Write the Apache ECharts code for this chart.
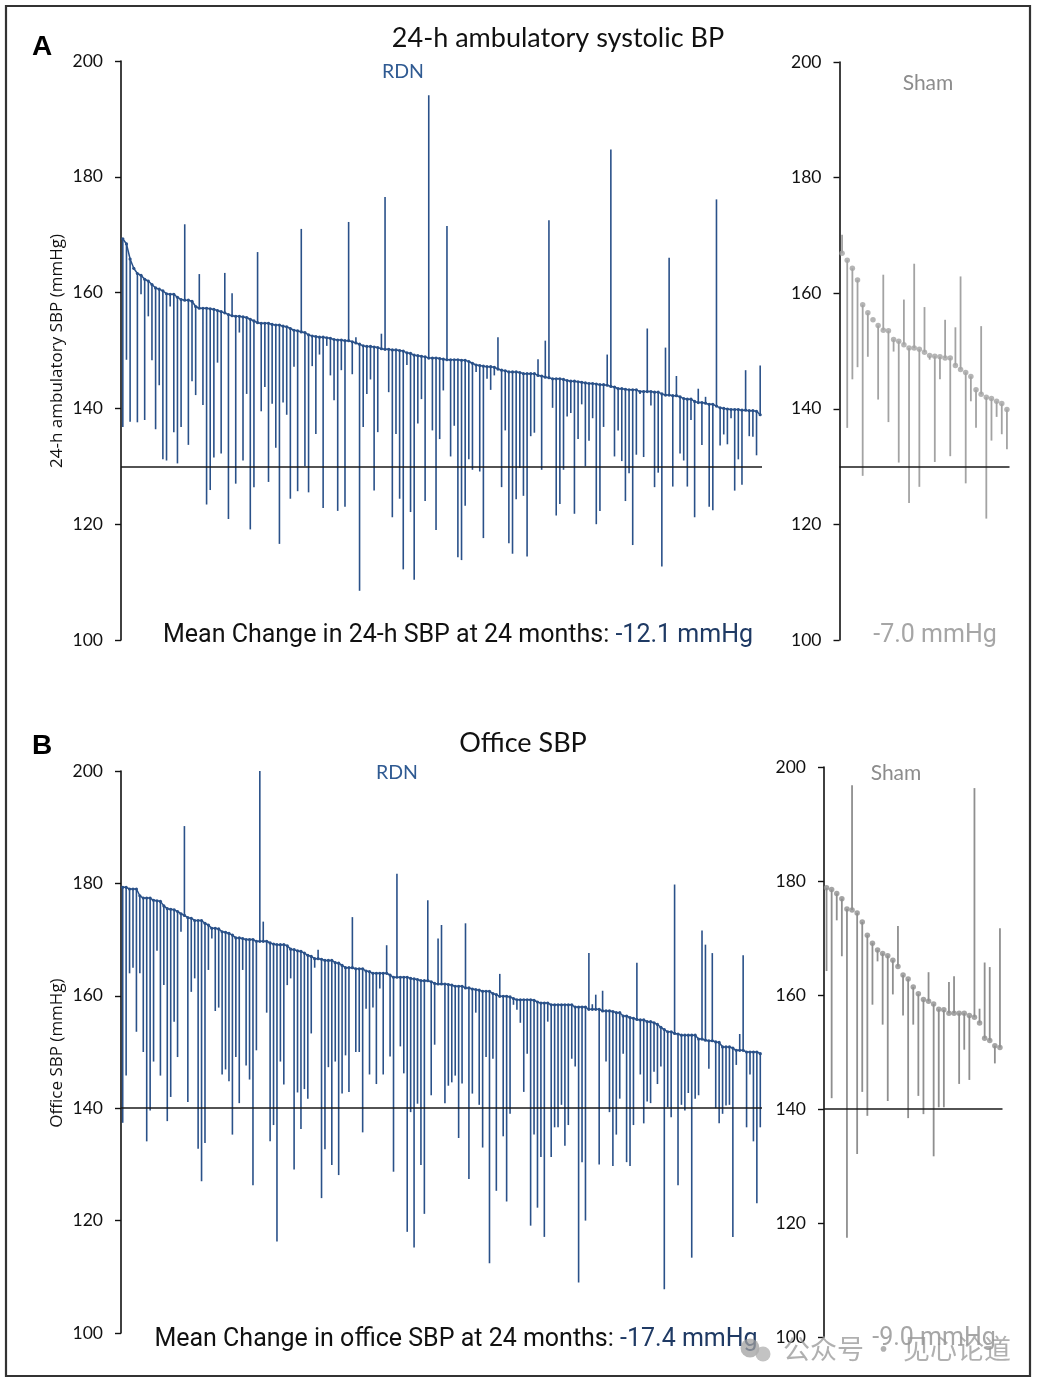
<!DOCTYPE html>
<html>
<head>
<meta charset="utf-8">
<script src="https://cdn.jsdelivr.net/npm/echarts@6/dist/echarts.min.js"></script>
<style>
html,body{margin:0;padding:0;background:#fff;}
#chart{width:1046px;height:1390px;}
</style>
</head>
<body>
<div id="chart"></div>
<script>
// ---------- DATA ----------
// Panel A: 24-h ambulatory SBP, RDN (baseline sorted, 24-month value)
const aRdnBase = [169.3,168.4,165.8,164.2,163.3,163.0,162.3,162.0,161.4,160.8,
160.6,160.3,159.8,159.7,159.7,159.2,158.8,158.7,158.7,158.5,
157.6,157.3,157.3,157.3,157.2,157.1,156.9,156.7,156.5,156.2,
156.0,155.9,155.9,155.8,155.7,155.4,155.1,154.8,154.7,154.7,
154.7,154.5,154.4,154.4,154.2,154.1,153.8,153.5,153.4,153.2,
153.1,152.7,152.5,152.4,152.3,152.3,152.2,152.1,151.9,
151.8,151.8,151.7,151.7,151.5,151.3,151.1,150.8,150.7,150.7,
150.6,150.5,150.3,150.2,150.2,150.1,150.1,150.0,149.9,149.6,
149.5,149.2,149.1,149.0,148.9,148.7,148.7,148.7,148.6,148.5,
148.4,148.4,148.4,148.4,148.3,148.3,148.1,147.8,147.5,147.4,
147.3,147.2,147.2,147.1,146.8,146.6,146.5,146.3,146.3,146.3,
146.2,146.0,146.0,146.0,146.0,145.7,145.6,
145.4,145.3,145.1,145.1,145.1,145.0,144.8,144.7,144.7,144.6,
144.5,144.4,144.3,144.3,144.2,144.1,144.1,144.0,143.8,143.7,
143.4,143.4,143.3,143.2,143.2,143.2,142.9,142.9,142.9,142.9,
142.8,142.8,142.5,142.3,142.3,142.2,142.2,142.0,141.7,141.6,
141.6,141.2,141.0,141.0,140.9,140.7,140.7,140.4,140.1,140.0,
139.9,139.8,139.8,139.8,139.7,139.7,139.6,139.6,139.5,138.9];
const aRdnFollow = [136.8,148.4,137.7,164.2,137.6,159.7,138.0,155.9,148.3,136.4,
144.0,131.2,131.0,157.6,135.9,130.5,136.8,171.8,133.7,144.7,
142.3,163.2,140.6,123.4,125.9,131.5,147.9,132.2,163.4,120.9,
159.9,127.0,153.1,131.0,142.5,119.1,126.4,167.0,139.5,143.7,
127.3,140.8,133.2,116.6,141.0,138.9,124.4,147.2,125.7,171.0,
130.0,125.5,147.3,135.6,149.3,122.8,150.8,145.7,141.4,
122.3,146.6,123.0,172.2,145.9,152.3,108.5,136.8,142.5,145.0,
125.8,135.9,152.9,176.5,142.8,121.2,135.6,124.4,112.2,147.5,
122.1,110.4,137.4,141.6,124.0,194.1,136.2,119.0,134.7,143.1,
171.5,131.7,137.0,114.3,113.8,123.2,131.2,129.4,146.3,129.1,
117.6,145.1,143.2,145.7,152.3,126.4,136.2,116.7,114.9,124.3,
129.7,124.9,114.4,135.2,135.8,148.5,129.4,
151.7,172.5,140.1,121.5,123.5,129.4,138.6,139.2,121.8,134.7,
140.7,130.0,134.4,138.3,120.0,122.3,136.8,149.3,184.7,131.7,
136.2,130.9,124.0,128.8,116.4,132.0,142.5,131.6,153.8,140.5,
126.4,128.9,112.7,150.5,166.0,126.5,145.6,132.2,131.0,126.5,
138.0,121.2,143.4,133.7,142.0,123.0,122.4,176.1,133.6,135.5,
133.8,138.3,125.8,131.2,126.8,146.6,135.2,135.1,131.9,147.4];
// Panel A: Sham
const aShamBase = [166.9,165.7,164.3,162.3,158.0,156.6,155.4,154.4,153.6,153.5,152.0,151.7,151.1,150.5,150.5,150.3,149.8,149.2,149.1,149.0,148.8,148.8,147.5,146.8,146.3,145.6,143.3,142.5,142.0,141.8,141.3,140.9,139.9];
const aShamFollow = [170.1,136.7,145.1,147.2,128.4,149.0,155.4,141.6,163.2,137.7,149.9,130.7,158.9,123.7,165.1,126.5,157.6,148.5,130.8,145.1,155.4,131.8,154.1,162.9,127.1,141.3,136.7,154.3,121.0,134.5,138.6,135.6,133.0];

// Panel B: Office SBP, RDN
const bRdnBase = [179.3,179.3,179.0,179.0,179.0,177.8,177.4,177.4,177.4,177.0,
176.9,176.8,176.0,175.5,175.4,175.3,175.0,174.6,174.3,173.9,
173.8,173.4,173.4,173.4,172.9,172.6,172.0,172.0,171.9,171.4,
171.3,171.1,170.8,170.3,170.3,170.2,170.0,170.0,170.0,169.7,
169.7,169.7,169.7,169.4,169.2,169.1,169.1,169.1,168.9,168.3,
168.2,168.0,167.9,167.6,167.2,167.0,166.6,166.6,166.5,166.3,
166.3,166.3,165.9,
165.8,165.4,165.0,165.0,165.0,164.8,164.8,164.8,164.4,164.3,
164.0,164.0,164.0,164.0,164.0,163.7,163.3,163.3,163.3,163.3,
163.3,163.1,163.0,162.9,162.7,162.7,162.7,162.5,162.2,162.1,
162.1,162.1,162.0,161.9,161.7,161.7,161.7,161.4,161.4,161.2,
161.1,161.0,160.8,160.8,160.8,160.4,160.2,159.9,159.9,159.9,
159.8,159.5,159.3,159.3,159.3,159.3,159.3,159.2,158.9,158.7,
158.7,158.7,
158.4,158.4,158.4,158.4,158.4,158.4,158.4,158.0,158.0,158.0,
158.0,157.6,157.6,157.6,157.6,157.3,157.3,157.3,157.2,157.0,
157.0,156.4,156.4,156.1,156.0,155.8,155.7,155.7,155.4,155.4,
155.2,154.9,154.4,154.0,153.6,153.6,153.3,153.2,153.0,153.0,
153.0,153.0,153.0,152.3,152.3,152.1,152.0,152.0,151.8,151.7,
150.9,150.9,150.9,150.7,150.3,150.3,150.3,150.0,150.0,150.0,
150.0,149.7];
const bRdnFollow = [137.4,145.8,164.0,165.0,153.6,164.0,150.0,134.1,139.6,148.3,
168.0,145.8,161.9,137.7,142.0,155.4,149.1,171.4,190.2,141.1,
160.7,163.1,132.8,127.0,133.8,164.6,170.2,157.3,157.9,146.0,
146.9,144.8,135.3,149.1,140.9,164.6,147.6,145.1,126.3,150.3,
200.0,173.2,157.0,134.1,137.0,116.3,148.3,144.2,161.9,163.1,
129.1,142.8,136.3,143.4,141.7,153.3,165.0,168.2,124.0,132.7,
147.3,129.9,148.3,
128.1,142.6,149.4,142.9,174.0,150.0,150.0,135.7,157.7,146.0,
157.9,144.3,161.3,146.0,169.0,149.2,128.7,181.7,151.0,146.2,
118.0,139.3,115.2,140.8,129.9,121.2,177.0,142.3,151.3,170.2,
172.6,140.9,144.0,144.6,145.8,134.7,144.4,172.9,127.4,142.6,
157.0,140.6,133.0,149.1,112.4,148.8,125.3,163.9,135.0,123.4,
139.0,158.4,157.5,155.2,142.9,149.7,119.1,135.3,122.3,131.3,
117.1,155.4,
131.3,136.6,136.6,140.6,133.3,137.0,148.8,147.4,109.0,130.4,
120.0,167.6,158.5,160.2,130.0,160.9,148.3,139.3,129.7,135.3,
141.7,149.7,130.4,129.7,137.0,165.9,146.0,137.3,141.2,140.9,
146.5,144.3,147.4,107.8,140.2,138.4,179.8,126.3,140.6,139.6,
142.7,113.4,141.7,142.3,171.6,169.1,147.0,167.6,140.0,137.3,
139.0,140.5,140.6,117.1,147.7,153.2,167.2,136.6,146.0,134.1,
123.1,136.6];
// Panel B: Sham
const bShamBase = [178.8,178.5,177.8,176.9,175.1,174.9,174.4,172.8,170.5,169.1,167.9,167.3,166.9,166.1,165.0,163.5,162.8,161.4,160.2,159.2,158.9,158.4,157.5,157.4,156.8,156.8,156.8,156.8,156.4,156.1,155.1,152.4,152.0,151.1,150.8];
const bShamFollow = [164.2,141.9,173.1,166.8,117.4,196.8,132.1,143.0,138.8,158.3,165.9,154.8,141.4,160.1,172.1,156.4,138.4,154.8,142.3,139.1,164.0,131.7,140.3,140.3,162.3,163.3,144.4,150.4,145.1,196.3,157.6,165.7,164.9,148.0,171.7];

const yTicks = [100, 120, 140, 160, 180, 200];
const refA = 130, refB = 140;

// ---------- STYLE ----------
const BLUE = '#2a5189';
const GRAY_A = '#a3a3a3';
const GRAY_B = '#8f8f8f';
const TICK_FONT = 'Lato, "Open Sans", sans-serif';

const chart = echarts.init(document.getElementById('chart'), null, {renderer: 'canvas'});

function cats(n){ return Array.from({length: n}, (_, i) => String(i + 1)); }
function segs(base, fol){ return base.map((b, i) => [i, b, fol[i]]); }

function yAxisDef(gi){
  return {
    type: 'value', gridIndex: gi, min: yTicks[0], max: yTicks[yTicks.length - 1], interval: 20,
    axisLine: {show: true, lineStyle: {color: '#111', width: 1.6}},
    axisTick: {show: true, length: 6, lineStyle: {color: '#111', width: 1.4}},
    axisLabel: {color: '#111', fontSize: 17.5, fontFamily: TICK_FONT, margin: 18},
    splitLine: {show: false}
  };
}
function xAxisDef(gi, n){
  return {type: 'category', gridIndex: gi, data: cats(n), boundaryGap: true, show: false};
}
function vlineSeries(idx, data, color, width){
  return {
    type: 'custom', xAxisIndex: idx, yAxisIndex: idx, data: data, silent: true,
    encode: {x: 0, y: [1, 2]},
    renderItem: function(params, api){
      const i = api.value(0);
      const p1 = api.coord([i, api.value(1)]);
      const p2 = api.coord([i, api.value(2)]);
      return {type: 'line', shape: {x1: p1[0], y1: p1[1], x2: p2[0], y2: p2[1]},
              style: {stroke: color, lineWidth: width}};
    },
    z: 2
  };
}
function refLine(v){
  return {silent: true, symbol: 'none', label: {show: false},
          lineStyle: {color: '#1a1a1a', width: 1.6, type: 'solid'},
          data: [{yAxis: v}], animation: false};
}

const MC_FONT = '25px Roboto, sans-serif';

const option = {
  animation: false,
  backgroundColor: '#fff',
  grid: [
    {left: 121, top: 61, width: 641, height: 579},
    {left: 839.5, top: 62, width: 170, height: 578},
    {left: 121, top: 771, width: 641, height: 562},
    {left: 824, top: 767, width: 178.5, height: 570}
  ],
  xAxis: [xAxisDef(0, aRdnBase.length), xAxisDef(1, aShamBase.length), xAxisDef(2, bRdnBase.length), xAxisDef(3, bShamBase.length)],
  yAxis: [yAxisDef(0), yAxisDef(1), yAxisDef(2), yAxisDef(3)],
  series: [
    vlineSeries(0, segs(aRdnBase, aRdnFollow), BLUE, 1.6),
    {type: 'line', xAxisIndex: 0, yAxisIndex: 0, data: aRdnBase, symbol: 'circle', symbolSize: 3.2, showAllSymbol: true,
     itemStyle: {color: BLUE}, lineStyle: {color: BLUE, width: 1.5}, z: 3, markLine: refLine(refA)},
    vlineSeries(1, segs(aShamBase, aShamFollow), GRAY_A, 1.8),
    {type: 'scatter', xAxisIndex: 1, yAxisIndex: 1, data: aShamBase, symbol: 'circle', symbolSize: 5.5,
     itemStyle: {color: GRAY_A}, z: 3, markLine: refLine(refA)},
    vlineSeries(2, segs(bRdnBase, bRdnFollow), BLUE, 1.6),
    {type: 'line', xAxisIndex: 2, yAxisIndex: 2, data: bRdnBase, symbol: 'circle', symbolSize: 3.2, showAllSymbol: true,
     itemStyle: {color: BLUE}, lineStyle: {color: BLUE, width: 1.5}, z: 3, markLine: refLine(refB)},
    vlineSeries(3, segs(bShamBase, bShamFollow), GRAY_B, 1.8),
    {type: 'scatter', xAxisIndex: 3, yAxisIndex: 3, data: bShamBase, symbol: 'circle', symbolSize: 5.5,
     itemStyle: {color: GRAY_B}, z: 3, markLine: refLine(refB)}
  ],
  graphic: [
    {type: 'rect', shape: {x: 6, y: 6, width: 1024, height: 1370}, style: {fill: 'none', stroke: '#333', lineWidth: 2.2}, z: 10},
    // Panel A texts
    {type: 'text', style: {x: 42, y: 47, text: 'A', font: 'bold 28px "Liberation Sans", Arial, sans-serif', fill: '#000', textAlign: 'center', textVerticalAlign: 'middle'}},
    {type: 'text', style: {x: 558, y: 38, text: '24-h ambulatory systolic BP', font: '27px Lato, sans-serif', fill: '#111', textAlign: 'center', textVerticalAlign: 'middle'}},
    {type: 'text', style: {x: 403, y: 72, text: 'RDN', font: '19.5px Lato, sans-serif', fill: '#2f5a92', textAlign: 'center', textVerticalAlign: 'middle'}},
    {type: 'text', style: {x: 928, y: 83, text: 'Sham', font: '21px Lato, sans-serif', fill: '#8c8c8c', textAlign: 'center', textVerticalAlign: 'middle'}},
    {type: 'text', rotation: Math.PI / 2, x: 57, y: 351, style: {x: 0, y: 0, text: '24-h ambulatory SBP (mmHg)', font: '17px "Open Sans", sans-serif', fill: '#111', textAlign: 'center', textVerticalAlign: 'middle'}},
    {type: 'text', style: {x: 458, y: 636, textAlign: 'center', textVerticalAlign: 'middle',
      text: '{a|Mean Change in 24-h SBP at 24 months: }{b|-12.1 mmHg}',
      rich: {a: {font: MC_FONT, fill: '#111'}, b: {font: MC_FONT, fill: '#1f3a64'}}}},
    {type: 'text', style: {x: 935, y: 636, text: '-7.0 mmHg', font: MC_FONT, fill: '#a6a6a6', textAlign: 'center', textVerticalAlign: 'middle'}},
    // Panel B texts
    {type: 'text', style: {x: 42, y: 746, text: 'B', font: 'bold 28px "Liberation Sans", Arial, sans-serif', fill: '#000', textAlign: 'center', textVerticalAlign: 'middle'}},
    {type: 'text', style: {x: 523, y: 743, text: 'Office SBP', font: '27px Lato, sans-serif', fill: '#111', textAlign: 'center', textVerticalAlign: 'middle'}},
    {type: 'text', style: {x: 397, y: 773, text: 'RDN', font: '19.5px Lato, sans-serif', fill: '#2f5a92', textAlign: 'center', textVerticalAlign: 'middle'}},
    {type: 'text', style: {x: 896, y: 773, text: 'Sham', font: '21px Lato, sans-serif', fill: '#8c8c8c', textAlign: 'center', textVerticalAlign: 'middle'}},
    {type: 'text', rotation: Math.PI / 2, x: 57, y: 1053, style: {x: 0, y: 0, text: 'Office SBP (mmHg)', font: '17px "Open Sans", sans-serif', fill: '#111', textAlign: 'center', textVerticalAlign: 'middle'}},
    {type: 'text', style: {x: 456, y: 1340, textAlign: 'center', textVerticalAlign: 'middle',
      text: '{a|Mean Change in office SBP at 24 months: }{b|-17.4 mmHg}',
      rich: {a: {font: MC_FONT, fill: '#111'}, b: {font: MC_FONT, fill: '#1f3a64'}}}},
    {type: 'text', style: {x: 934, y: 1339, text: '-9.0 mmHg', font: MC_FONT, fill: '#a6a6a6', textAlign: 'center', textVerticalAlign: 'middle'}},
    // watermark
    {type: 'circle', shape: {cx: 750, cy: 1348, r: 9.5}, style: {fill: 'rgba(160,160,160,0.75)'}, z: 20},
    {type: 'circle', shape: {cx: 763, cy: 1354, r: 7.5}, style: {fill: 'rgba(175,175,175,0.75)'}, z: 20},
    {type: 'text', z: 20, style: {x: 897, y: 1349, text: '公众号 · 见心论道', font: '27px "Noto Sans CJK SC", sans-serif', fill: 'rgba(150,150,150,0.75)', textAlign: 'center', textVerticalAlign: 'middle'}}
  ]
};
chart.setOption(option);
</script>
</body>
</html>
